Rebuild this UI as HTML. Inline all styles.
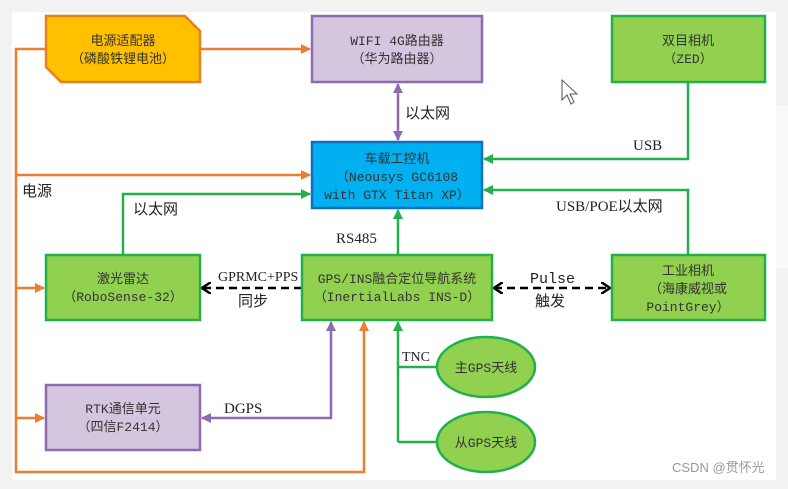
<!DOCTYPE html>
<html><head><meta charset="utf-8"><style>
body{margin:0;width:788px;height:484px;background:#f2f2f2;overflow:hidden}
svg text{font-family:"Liberation Mono","Noto Sans CJK SC",monospace}
</style></head><body>
<svg width="788" height="484" xmlns="http://www.w3.org/2000/svg">
<defs>
<marker id="o" markerWidth="10" markerHeight="10" refX="9" refY="5" orient="auto" markerUnits="userSpaceOnUse"><path d="M0,0 L10,5 L0,10z" fill="#ed7d31"/></marker>
<marker id="g" markerWidth="10" markerHeight="10" refX="9" refY="5" orient="auto-start-reverse" markerUnits="userSpaceOnUse"><path d="M0,0 L10,5 L0,10z" fill="#22b04c"/></marker>
<marker id="p" markerWidth="10" markerHeight="10" refX="9" refY="5" orient="auto-start-reverse" markerUnits="userSpaceOnUse"><path d="M0,0 L10,5 L0,10z" fill="#8e6bb0"/></marker>
<marker id="k" markerWidth="10" markerHeight="12" refX="9" refY="6" orient="auto-start-reverse" markerUnits="userSpaceOnUse"><path d="M0,0 L9,6 L0,12" fill="none" stroke="#000" stroke-width="2.5"/></marker>
</defs>
<rect x="12" y="12" width="764" height="468" fill="#fff"/>
<rect x="776" y="106" width="12" height="162" fill="#fafafa"/>
<g fill="none" stroke-width="2.5">
<g stroke="#ed7d31">
<path d="M46,49 H16 V472 H364 V322" marker-end="url(#o)"/>
<path d="M200,49 H310" marker-end="url(#o)"/>
<path d="M16,175 H310" marker-end="url(#o)"/>
<path d="M16,288 H44" marker-end="url(#o)"/>
<path d="M16,418 H44" marker-end="url(#o)"/>
</g>
<path stroke="#8e6bb0" d="M398,84 V140" marker-start="url(#p)" marker-end="url(#p)"/>
<path stroke="#8e6bb0" d="M331,322 V418 H202" marker-start="url(#p)" marker-end="url(#p)"/>
<g stroke="#22b04c">
<path d="M123,255 V194 H310" marker-end="url(#g)"/>
<path d="M398,255 V210" marker-end="url(#g)"/>
<path d="M688,82 V159 H484" marker-end="url(#g)"/>
<path d="M688,255 V190 H484" marker-end="url(#g)"/>
<path d="M398,442 V322" marker-end="url(#g)"/>
<path d="M398,367 H436 M398,442 H436"/>
</g>
<path stroke="#000" stroke-dasharray="8,5" d="M302,288 H202" marker-end="url(#k)"/>
<path stroke="#000" stroke-dasharray="8,5" d="M494,288 H610" marker-start="url(#k)" marker-end="url(#k)"/>
</g>
<g stroke-width="2.5">
<path d="M46,16 H185 L200,31 V82 H61 L46,67z" fill="#ffc000" stroke="#e87f20"/>
<rect x="312" y="16" width="170" height="66" fill="#d5c6e0" stroke="#8e6bb0"/>
<rect x="612" y="16" width="153" height="66" fill="#92d050" stroke="#22b04c"/>
<rect x="312" y="142" width="170" height="66" fill="#00b0f0" stroke="#1070c0"/>
<rect x="46" y="255" width="154" height="65" fill="#92d050" stroke="#22b04c"/>
<rect x="302" y="255" width="190" height="65" fill="#92d050" stroke="#22b04c"/>
<rect x="612" y="255" width="153" height="65" fill="#92d050" stroke="#22b04c"/>
<rect x="46" y="385" width="154" height="65" fill="#d5c6e0" stroke="#8e6bb0"/>
<ellipse cx="486" cy="367" rx="49" ry="30" fill="#92d050" stroke="#22b04c"/>
<ellipse cx="486" cy="442" rx="49" ry="30" fill="#92d050" stroke="#22b04c"/>
</g>
<g font-size="13" fill="#333" text-anchor="middle">
<text x="123" y="45">电源适配器</text><text x="123" y="63">（磷酸铁锂电池）</text>
<text x="397" y="45">WIFI 4G路由器</text><text x="397" y="63">（华为路由器）</text>
<text x="688" y="45">双目相机</text><text x="688" y="63">（ZED）</text>
<text x="397" y="163">车载工控机</text><text x="397" y="181">（Neousys GC6108</text><text x="397" y="199">with GTX Titan XP）</text>
<text x="123" y="283">激光雷达</text><text x="123" y="301">（RoboSense-32）</text>
<text x="397" y="283">GPS/INS融合定位导航系统</text><text x="397" y="301">（InertialLabs INS-D）</text>
<text x="688" y="275">工业相机</text><text x="688" y="293">（海康威视或</text><text x="688" y="311">PointGrey）</text>
<text x="123" y="413">RTK通信单元</text><text x="123" y="431">（四信F2414）</text>
<text x="486" y="372">主GPS天线</text><text x="486" y="447">从GPS天线</text>
</g>
<g font-size="15" fill="#222">
<text x="22" y="196" style="font-family:'Liberation Serif','Noto Sans CJK SC',serif">电源</text>
<text x="133" y="214">以太网</text>
<text x="405" y="118">以太网</text>
<text x="336" y="243" style="font-family:'Liberation Serif','Noto Sans CJK SC',serif">RS485</text>
<text x="633" y="150" style="font-family:'Liberation Serif','Noto Sans CJK SC',serif">USB</text>
<text x="556" y="211" style="font-family:'Liberation Serif','Noto Sans CJK SC',serif">USB/POE以太网</text>
<text x="218" y="281" font-size="14" style="font-family:'Liberation Serif','Noto Sans CJK SC',serif">GPRMC+PPS</text>
<text x="238" y="306">同步</text>
<text x="530" y="283">Pulse</text>
<text x="535" y="306">触发</text>
<text x="224" y="413" style="font-family:'Liberation Serif','Noto Sans CJK SC',serif">DGPS</text>
<text x="402" y="361" font-size="14" style="font-family:'Liberation Serif','Noto Sans CJK SC',serif">TNC</text>
</g>
<text x="672" y="472" font-size="13" fill="#999" style="font-family:'Liberation Sans','Noto Sans CJK SC',sans-serif">CSDN @贯怀光</text>
<path d="M562,80 V100 L567,95 L571,104 L574,102 L570,94 L577,94z" fill="#fff" stroke="#555" stroke-width="1"/>
</svg>
</body></html>
